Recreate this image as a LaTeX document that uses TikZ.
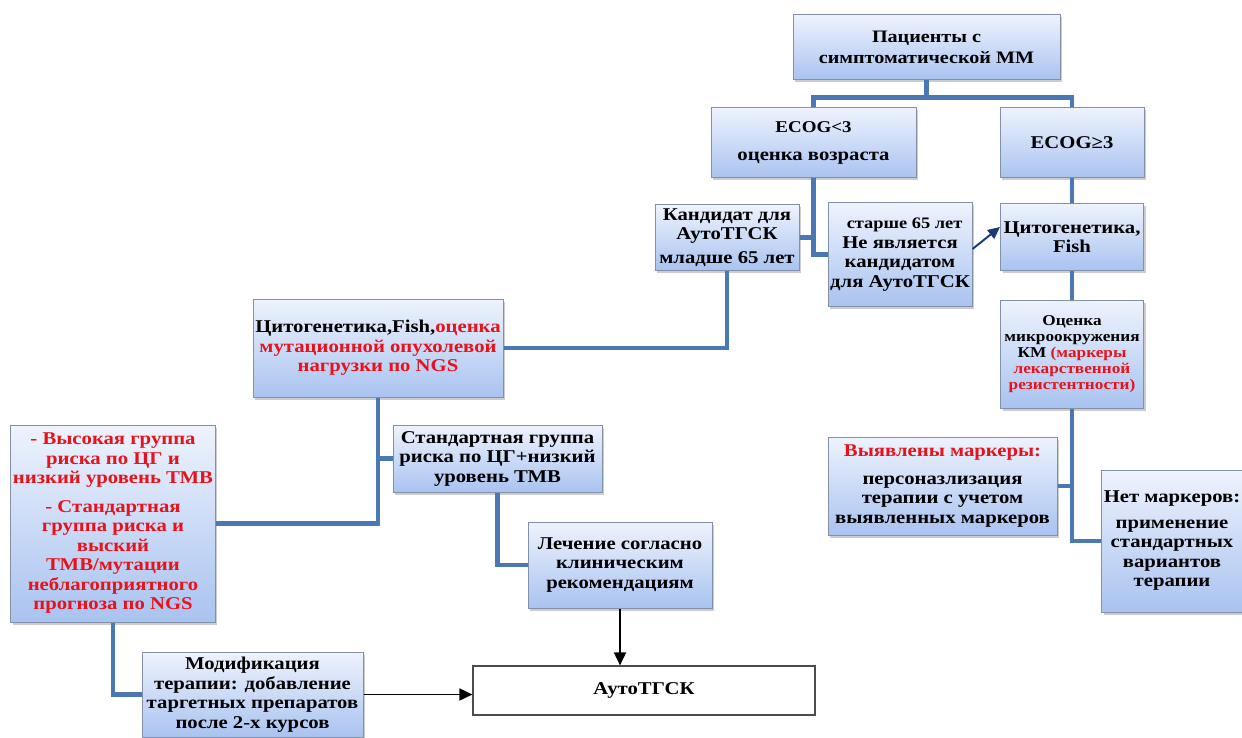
\documentclass[tikz,border=0pt]{standalone}
\usepackage{fontspec}
\setmainfont[BoldFont={Liberation Serif Bold}, FakeStretch=1.15]{Liberation Serif}
\usetikzlibrary{shadows,arrows.meta}
\definecolor{boxtop}{HTML}{EEF3FD}
\definecolor{boxbot}{HTML}{A9C3F0}
\definecolor{boxline}{HTML}{8391A8}
\definecolor{linkblue}{HTML}{4A78B4}
\definecolor{txtred}{HTML}{E8121C}
\definecolor{arrnavy}{HTML}{1B3A7A}

\begin{document}
\begin{tikzpicture}[x=1pt,y=-1pt,
  box/.style={draw=boxline, line width=1pt, top color=boxtop, bottom color=boxbot,
    drop shadow={shadow xshift=2pt,shadow yshift=-2.5pt,opacity=0.4},
    align=center, inner sep=2pt, font=\bfseries\fontsize{18}{19.5}\selectfont},
  small/.style={font=\bfseries\fontsize{15}{16}\selectfont},
  link/.style={draw=linkblue, line width=4.5pt},
  arr/.style={-{Triangle[length=13pt,width=12pt]}, line width=1.8pt},
  navyarr/.style={-{Triangle[length=12pt,width=11pt]}, draw=arrnavy, line width=2pt}]
\useasboundingbox (0,0) rectangle (1242,738);
\node[box, minimum width=267, minimum height=65, font=\bfseries\fontsize{17.5}{21.5}\selectfont] (n1) at (926.5,47.5) {Пациенты с\\симптоматической ММ} ;
\node[box, minimum width=205, minimum height=70] (n2) at (813.5,143) {{\fontsize{16.5}{18}\selectfont ECOG<3}\\[9pt]оценка возраста} ;
\node[box, minimum width=144, minimum height=70] (n3) at (1072,143) {ECOG≥3} ;
\node[box, minimum width=144, minimum height=65] (n4) at (727,237.5) {Кандидат для\\АутоТГСК\\[4pt]младше 65 лет} ;
\node[box, minimum width=144, minimum height=103] (n5) at (900,254.5) {{\fontsize{16}{18}\selectfont\ \ старше 65 лет}\\Не является\\кандидатом\\для АутоТГСК} ;
\node[box, minimum width=143, minimum height=66] (n6) at (1072,237) {Цитогенетика,\\Fish} ;
\node[box, small, minimum width=143, minimum height=108] (n7) at (1072,354) {Оценка\\микроокружения\\КМ \textcolor{txtred}{(маркеры}\\\textcolor{txtred}{лекарственной}\\\textcolor{txtred}{резистентности)}} ;
\node[box, minimum width=229, minimum height=98] (n8) at (942.5,486) {\textcolor{txtred}{Выявлены маркеры:}\\[8pt]персоназлизация\\терапии с учетом\\выявленных маркеров} ;
\node[box, minimum width=136, minimum height=142] (n9) at (1172,541) {Нет маркеров:\\[6pt]применение\\стандартных\\вариантов\\терапии} ;
\node[box, minimum width=250, minimum height=98] (n10) at (378,348) {Цитогенетика,Fish,\textcolor{txtred}{оценка}\\\textcolor{txtred}{мутационной опухолевой}\\\textcolor{txtred}{нагрузки по NGS}} ;
\node[box, minimum width=209, minimum height=67] (n11) at (497.5,458.5) {Стандартная группа\\риска по ЦГ+низкий\\уровень ТМВ} ;
\node[box, text=txtred, minimum width=200, minimum height=197] (n12) at (113,523.5) {- Высокая группа\\риска по ЦГ и\\низкий уровень ТМВ\\[9pt]- Стандартная\\группа риска и\\выский\\ТМВ/мутации\\неблагоприятного\\прогноза по NGS} ;
\node[box, minimum width=184, minimum height=86] (n13) at (620,565) {Лечение согласно\\клиническим\\рекомендациям} ;
\node[draw=black!70, line width=1.2pt, fill=white, minimum width=342, minimum height=49, font=\bfseries\fontsize{18}{20}\selectfont] (n14) at (644,690.5) {АутоТГСК} ;
\node[box, minimum width=221, minimum height=85] (n15) at (252.5,694.5) {Модификация\\терапии: добавление\\таргетных препаратов\\после 2-х курсов} ;
% blue links
\draw[link] (n1.south) -- ++(0,17) -| (n2.north) ;
\draw[link] (n1.south) -- ++(0,17) -| (n3.north) ;
\draw[link] (n2.south) |- (n5.west) ;
\draw[link] (n4.east) -- (n4.east -| n2.south) ;
\draw[link] (n3.south) -- (n6.north) ;
\draw[link] (n6.south) -- (n7.north) ;
\draw[link] (n7.south) |- (n9.west) ;
\draw[link] (n8.east) -- (n8.east -| n7.south) ;
\draw[link] (n4.south) |- (n10.east) ;
\draw[link] (n10.south) |- (n12.east) ;
\draw[link] (n11.west) -- (n11.west -| n10.south) ;
\draw[link] (n11.south) |- (n13.west) ;
\draw[link] (n12.south) |- (n15.west) ;
% arrows
\draw[navyarr] ([yshift=5.5pt]n5.east) -- ([yshift=10pt]n6.west) ;
\draw[arr] (n13.south) -- (n13.south |- n14.north) ;
\draw[arr] (n15.east) -- (n15.east -| n14.west) ;
\end{tikzpicture}
\end{document}
